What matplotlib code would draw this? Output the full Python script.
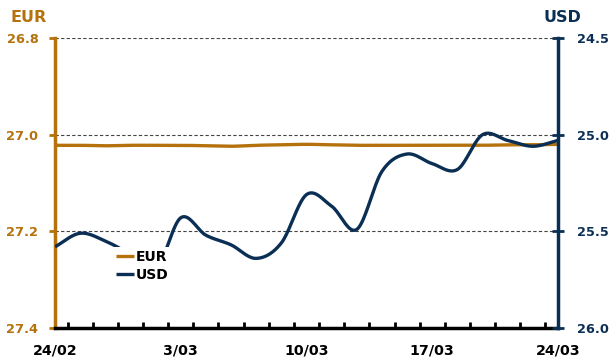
import matplotlib
matplotlib.use("Agg")
import matplotlib.pyplot as plt
import numpy as np
from matplotlib.ticker import FormatStrFormatter

# trading days 24/02 - 24/03
day_labels = ["24/02", "3/03", "10/03", "17/03", "24/03"]
label_days = [0, 5, 10, 15, 20]

eur = [27.022, 27.022, 27.023, 27.022, 27.022, 27.022, 27.023, 27.024, 27.022, 27.021,
       27.020, 27.021, 27.022, 27.022, 27.022, 27.022, 27.022, 27.022, 27.021, 27.021,
       27.020]
usd = [25.58, 25.51, 25.55, 25.62, 25.70, 25.43, 25.52, 25.57, 25.64, 25.56,
       25.31, 25.37, 25.49, 25.19, 25.10, 25.15, 25.18, 25.00, 25.03, 25.06,
       25.03]

EUR_COL = "#B5710C"
USD_COL = "#0B2F54"


def smooth(y, n=20):
    # catmull-rom curve through the daily points
    y = np.asarray(y, dtype=float)
    p = np.concatenate([[2 * y[0] - y[1]], y, [2 * y[-1] - y[-2]]])
    xs, ys = [], []
    for i in range(len(y) - 1):
        p0, p1, p2, p3 = p[i], p[i + 1], p[i + 2], p[i + 3]
        t = np.linspace(0, 1, n, endpoint=False)
        seg = 0.5 * ((2 * p1) + (-p0 + p2) * t + (2 * p0 - 5 * p1 + 4 * p2 - p3) * t ** 2
                     + (-p0 + 3 * p1 - 3 * p2 + p3) * t ** 3)
        xs.append(i + t)
        ys.append(seg)
    xs.append([len(y) - 1])
    ys.append([y[-1]])
    return np.concatenate(xs), np.concatenate(ys)


plt.rcParams["font.family"] = "DejaVu Sans"
plt.rcParams["font.weight"] = "bold"

fig = plt.figure(figsize=(6.13, 3.58), dpi=100)
ax1 = fig.add_axes([55 / 613, 30 / 358, 503 / 613, 290 / 358])
ax2 = ax1.twinx()

x = np.arange(len(eur))
ex, ey = smooth(eur)
ux, uy = smooth(usd)
l1, = ax1.plot(ex, ey, color=EUR_COL, lw=2.4, label="EUR", solid_capstyle="butt")
l2, = ax2.plot(ux, uy, color=USD_COL, lw=2.4, label="USD", solid_capstyle="butt")

ax1.set_xlim(0, 20)
ax1.set_ylim(27.4, 26.8)
ax2.set_ylim(26.0, 24.5)
ax1.set_yticks([26.8, 27.0, 27.2, 27.4])
ax2.set_yticks([24.5, 25.0, 25.5, 26.0])
ax1.yaxis.set_major_formatter(FormatStrFormatter("%.1f"))
ax2.yaxis.set_major_formatter(FormatStrFormatter("%.1f"))

ax1.grid(axis="y", linestyle=(0, (3, 2)), color="#444444", lw=0.8)
ax1.set_axisbelow(True)

ax1.set_xticks(label_days)
ax1.set_xticklabels(day_labels)
ax1.set_xticks(np.arange(20) + 0.5, minor=True)
ax1.tick_params(axis="x", which="major", length=0, pad=11, labelsize=10.3, labelcolor="black")
ax1.tick_params(axis="x", which="minor", direction="in", length=4, width=2, color="black")

ax1.tick_params(axis="y", direction="out", length=4, width=2, color=EUR_COL,
                labelcolor=EUR_COL, labelsize=9.3, pad=8)
ax2.tick_params(axis="y", direction="inout", length=9, width=2, color=USD_COL,
                labelcolor=USD_COL, labelsize=9.3, pad=9)

for ax in (ax1, ax2):
    ax.spines["top"].set_visible(False)
ax1.spines["right"].set_visible(False)
ax2.spines["left"].set_visible(False)
ax2.spines["bottom"].set_visible(False)
ax1.spines["left"].set_color(EUR_COL)
ax1.spines["left"].set_linewidth(2.5)
ax2.spines["right"].set_color(USD_COL)
ax2.spines["right"].set_linewidth(2.5)
ax1.spines["bottom"].set_color("black")
ax1.spines["bottom"].set_linewidth(2.5)

fig.text(28.5 / 613, 1 - 17 / 358, "EUR", color=EUR_COL, fontsize=11.5,
         ha="center", va="center", fontweight="bold")
fig.text(562 / 613, 1 - 17 / 358, "USD", color=USD_COL, fontsize=11.5,
         ha="center", va="center", fontweight="bold")

ax2.legend([l1, l2], ["EUR", "USD"], loc="upper left", bbox_to_anchor=(0.115, 0.28),
           borderaxespad=0, frameon=True, facecolor="white", edgecolor="none",
           framealpha=1, fancybox=False, handlelength=1.3, handletextpad=0.15,
           labelspacing=0.3, borderpad=0.2,
           prop={"size": 10, "weight": "bold"})

fig.savefig("out.png", dpi=100)
